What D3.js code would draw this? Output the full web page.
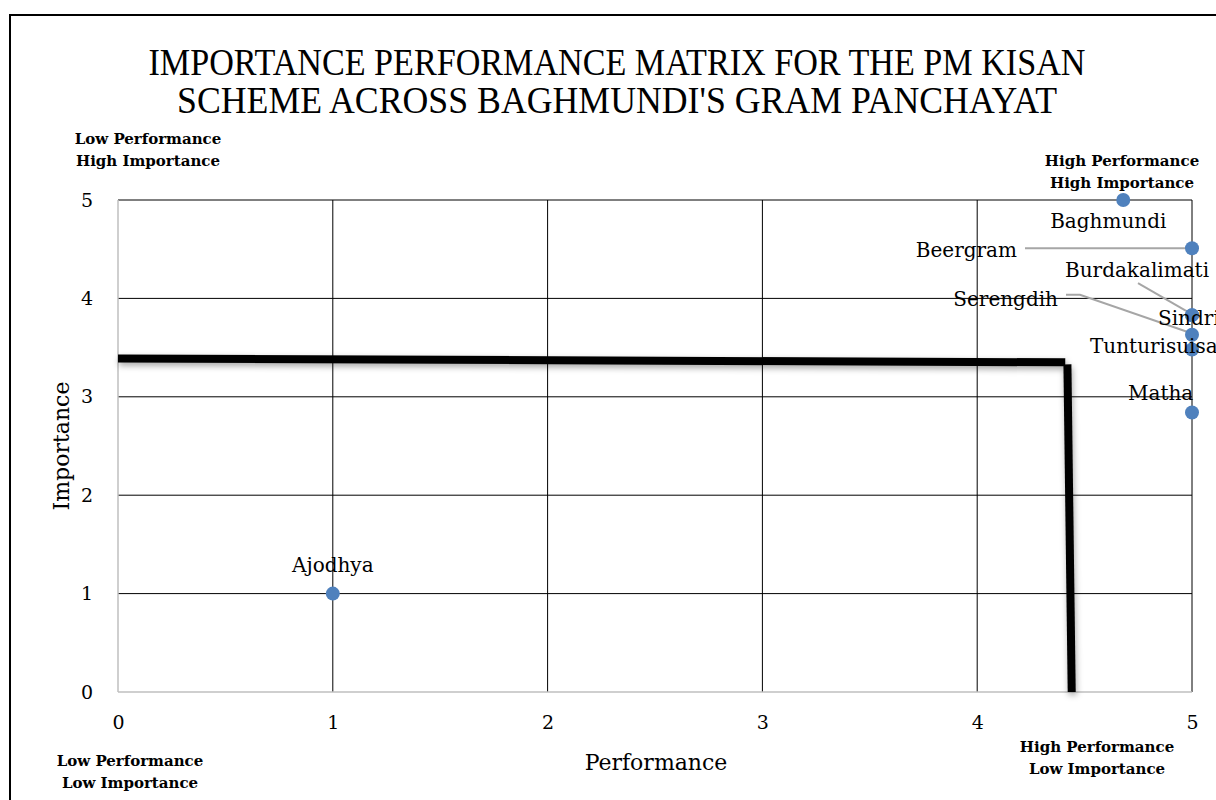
<!DOCTYPE html>
<html>
<head>
<meta charset="utf-8">
<script src="https://cdn.jsdelivr.net/npm/d3@7"></script>
<style>
  html, body { margin: 0; padding: 0; background: #fff; }
  svg { display: block; }
</style>
</head>
<body>
<svg id="chart" width="1216" height="800"></svg>
<script>
// ---- data ----
const places      = ["Ajodhya", "Baghmundi", "Beergram", "Burdakalimati", "Serengdih", "Sindri", "Tunturisuisa", "Matha"];
const performance = [1, 4.68, 5, 5, 5, 5, 5, 5];
const importance  = [1, 5, 4.51, 3.83, 3.63, 3.83, 3.48, 2.84];
const xTicks = [0, 1, 2, 3, 4, 5];
const yTicks = [0, 1, 2, 3, 4, 5];
// threshold lines (data units)
const hLine = [[0, 3.39], [4.41, 3.35]];
const vLine = [[4.42, 3.33], [4.44, 0]];
const titleLines = ["IMPORTANCE PERFORMANCE MATRIX FOR THE PM KISAN", "SCHEME ACROSS BAGHMUNDI'S GRAM PANCHAYAT"];
const quadrantLabels = [
  ["Low Performance", "High Importance"],
  ["High Performance", "High Importance"],
  ["Low Performance", "Low Importance"],
  ["High Performance", "Low Importance"]
];

// ---- layout ----
const svg = d3.select("#chart");
const x = d3.scaleLinear().domain([0, 5]).range([118, 1192]);
const y = d3.scaleLinear().domain([0, 5]).range([692, 200]);
const serif = "'DejaVu Serif', 'Liberation Serif', serif";

// label offsets relative to dot: [dx, dy, anchor]
const labelLayout = [
  [0, -22, "middle"],
  [-15, 28, "middle"],
  [-175, 9, "end"],
  [-127, -38, "start"],
  [-134, -29, "end"],
  [-34, 10, "start"],
  [-102, 3, "start"],
  [-64, -13, "start"]
];
// leader lines as offsets from dot: list of [dx,dy] points, ending at dot
const leaderLayout = {
  2: [[-167, 0], [0, 0]],
  3: [[-54, -32], [-2, -2]],
  4: [[-126, -40], [-112, -40], [-2, -2], [-2, 5]]
};

const defs = svg.append("defs");
const f = defs.append("filter").attr("id", "shadow").attr("filterUnits", "userSpaceOnUse")
  .attr("x", 0).attr("y", 0).attr("width", 1216).attr("height", 800);
f.append("feDropShadow").attr("dx", 1).attr("dy", 3).attr("stdDeviation", 3).attr("flood-color", "#000").attr("flood-opacity", 0.35);

// outer border
svg.append("rect").attr("x", 10).attr("y", 15).attr("width", 1240).attr("height", 820)
  .attr("fill", "none").attr("stroke", "#000").attr("stroke-width", 2);

// title
svg.append("g").selectAll("text").data(titleLines).join("text")
  .attr("x", 617).attr("y", (d, i) => 75 + i * 38)
  .attr("text-anchor", "middle")
  .attr("font-family", "'Liberation Serif', serif")
  .attr("font-size", 38)
  .attr("textLength", (d, i) => i === 0 ? 937 : 880)
  .attr("lengthAdjust", "spacingAndGlyphs")
  .attr("fill", "#000")
  .text(d => d);

// gridlines
const grid = svg.append("g");
grid.selectAll(".vg").data(xTicks.filter(d => d > 0)).join("line")
  .attr("x1", d => x(d)).attr("x2", d => x(d)).attr("y1", y(5)).attr("y2", y(0))
  .attr("stroke", "#000").attr("stroke-width", 1);
grid.selectAll(".hg").data(yTicks.filter(d => d > 0)).join("line")
  .attr("x1", x(0)).attr("x2", x(5)).attr("y1", d => y(d)).attr("y2", d => y(d))
  .attr("stroke", "#000").attr("stroke-width", 1);
// axis lines (grey)
grid.append("line").attr("x1", x(0)).attr("x2", x(5)).attr("y1", y(0)).attr("y2", y(0)).attr("stroke", "#bfbfbf").attr("stroke-width", 1.5);
grid.append("line").attr("x1", x(0)).attr("x2", x(0)).attr("y1", y(0)).attr("y2", y(5)).attr("stroke", "#bfbfbf").attr("stroke-width", 1.5);

// axes labels via d3 axes
const xAxis = svg.append("g").attr("transform", `translate(0,${y(0) + 20})`)
  .call(d3.axisBottom(x).tickValues(xTicks).tickSize(0).tickFormat(d3.format("d")));
xAxis.select(".domain").remove();
xAxis.selectAll("text").attr("font-family", serif).attr("font-size", 19).attr("fill", "#000");

const yAxis = svg.append("g").attr("transform", `translate(${x(0) - 22},0)`)
  .call(d3.axisLeft(y).tickValues(yTicks).tickSize(0).tickFormat(d3.format("d")));
yAxis.select(".domain").remove();
yAxis.selectAll("text").attr("font-family", serif).attr("font-size", 19).attr("fill", "#000");

// axis titles
svg.append("text").attr("x", 656).attr("y", 770).attr("text-anchor", "middle")
  .attr("font-family", serif).attr("font-size", 22).attr("fill", "#000").text("Performance");
svg.append("text").attr("transform", "translate(69,446) rotate(-90)").attr("text-anchor", "middle")
  .attr("font-family", serif).attr("font-size", 22).attr("fill", "#000").text("Importance");

// quadrant labels
const qPos = [[148, 144], [1122, 166], [130, 766], [1097, 752]];
quadrantLabels.forEach((lines, qi) => {
  svg.append("text").attr("text-anchor", "middle")
    .attr("font-family", serif).attr("font-weight", "bold").attr("font-size", 15).attr("fill", "#000")
    .selectAll("tspan").data(lines).join("tspan")
    .attr("x", qPos[qi][0]).attr("y", (d, i) => qPos[qi][1] + i * 22).text(d => d);
});

// threshold lines
const line = d3.line().x(d => x(d[0])).y(d => y(d[1]));
svg.append("path").attr("d", line(hLine)).attr("stroke", "#000").attr("stroke-width", 8)
  .attr("fill", "none").attr("filter", "url(#shadow)");
svg.append("path").attr("d", line(vLine)).attr("stroke", "#000").attr("stroke-width", 8)
  .attr("fill", "none").attr("filter", "url(#shadow)");

// leader lines
Object.keys(leaderLayout).forEach(k => {
  const i = +k;
  const cx = x(performance[i]), cy = y(importance[i]);
  const pts = leaderLayout[k].map(p => [cx + p[0], cy + p[1]]);
  svg.append("path").attr("d", d3.line()(pts)).attr("stroke", "#a6a6a6").attr("stroke-width", 2).attr("fill", "none");
});

// points
svg.append("g").selectAll("circle").data(places).join("circle")
  .attr("cx", (d, i) => x(performance[i])).attr("cy", (d, i) => y(importance[i]))
  .attr("r", 7).attr("fill", "#4f81bd");

// data labels
svg.append("g").selectAll("text").data(places).join("text")
  .attr("x", (d, i) => x(performance[i]) + labelLayout[i][0])
  .attr("y", (d, i) => y(importance[i]) + labelLayout[i][1])
  .attr("text-anchor", (d, i) => labelLayout[i][2])
  .attr("font-family", serif).attr("font-size", 20).attr("fill", "#000")
  .text(d => d);
</script>
</body>
</html>
